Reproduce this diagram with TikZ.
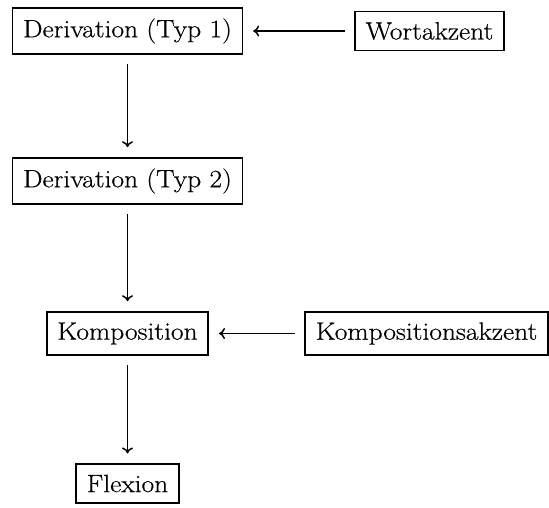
\documentclass[tikz,border=0pt]{standalone}
\usepackage{fontspec}
\setmainfont[FakeStretch=1.1,FakeBold=0.5]{Latin Modern Roman}
\usetikzlibrary{arrows.meta}
\begin{document}
\begin{tikzpicture}[x=1pt,y=-1pt,
  box/.style={draw, line width=1.6pt, inner sep=10.5pt, font=\fontsize{25}{30}\selectfont},
  conn/.style={line width=1.5pt, -{Computer Modern Rightarrow[length=6pt,width=11pt]}, shorten <=9pt, shorten >=10pt}]
\useasboundingbox (0,0) rectangle (549,507);
\node[box] (d1) at (127.5,31) {Derivation (Typ 1)};
\node[box] (w) at (429.5,31) {Wortakzent};
\node[box] (d2) at (127.5,181) {Derivation (Typ 2)};
\node[box] (k) at (127.5,333.5) {Komposition};
\node[box] (ka) at (426.5,333.5) {Kompositionsakzent};
\node[box] (f) at (127.5,483.5) {Flexion};
\draw[conn] (w) -- (d1);
\draw[conn] (d1) -- (d2);
\draw[conn] (d2) -- (k);
\draw[conn] (ka) -- (k);
\draw[conn] (k) -- (f);
\end{tikzpicture}
\end{document}
